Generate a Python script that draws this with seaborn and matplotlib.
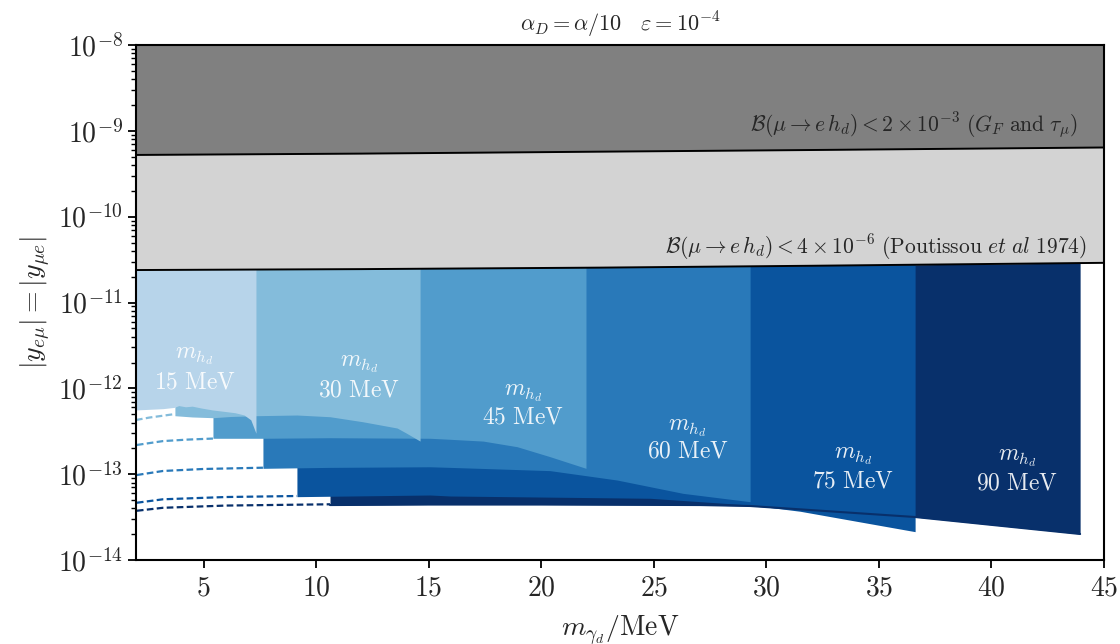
import numpy as np
import matplotlib
matplotlib.use("Agg")
import matplotlib.pyplot as plt
import matplotlib.ticker as mticker
import seaborn as sns

# boundaries of the excluded bands (upper part of the plot)
band_x = [2, 12, 22.6, 32, 45]
gf_y = [5.24e-10, 5.43e-10, 5.72e-10, 5.98e-10, 6.4e-10]        # B < 2e-3 (G_F and tau_mu)
pout_y = [2.39e-11, 2.45e-11, 2.55e-11, 2.68e-11, 2.9e-11]     # B < 4e-6 (Poutissou 1974)

masses = [15, 30, 45, 60, 75, 90]

# lower edge of each m_hd region (filled part)
x15 = [2.0, 2.6, 3.2, 3.7, 3.9, 4.2, 4.5, 4.9, 5.4, 5.9, 6.4, 6.8, 7.1, 7.33]
y15 = [5.6e-13, 5.7e-13, 5.8e-13, 6.0e-13, 6.3e-13, 6.1e-13, 6.2e-13, 5.9e-13, 5.6e-13,
       5.4e-13, 5.2e-13, 4.9e-13, 4.3e-13, 3.0e-13]
x30 = [3.73, 4.5, 5.42, 6.2, 7.33, 9.15, 10.62, 12.08, 13.6, 14.0, 14.62]
y30 = [4.8e-13, 4.64e-13, 4.55e-13, 4.7e-13, 4.8e-13, 4.89e-13, 4.67e-13, 4.08e-13,
       3.45e-13, 3.02e-13, 2.43e-13]
x45 = [5.42, 7.64, 10.62, 15.06, 15.95, 17.42, 18.93, 20.39, 21.99]
y45 = [2.62e-13, 2.62e-13, 2.66e-13, 2.62e-13, 2.55e-13, 2.43e-13, 2.09e-13, 1.6e-13, 1.17e-13]
x60 = [7.64, 10.62, 15.06, 15.95, 20.39, 23.37, 26.3, 29.28]
y60 = [1.17e-13, 1.2e-13, 1.22e-13, 1.2e-13, 1.1e-13, 8.55e-14, 5.98e-14, 4.78e-14]
x75 = [9.15, 15.06, 15.95, 24.83, 29.28, 31.5, 36.61]
y75 = [5.47e-14, 5.72e-14, 5.57e-14, 5.24e-14, 4.37e-14, 3.7e-14, 2.14e-14]
x90 = [10.62, 15.0, 20.0, 27.06, 29.28, 36.61, 43.94]
y90 = [4.37e-14, 4.43e-14, 4.43e-14, 4.37e-14, 4.26e-14, 3.17e-14, 2.01e-14]

# dashed continuation towards low m_gamma_d
dx30 = [2.0, 2.6, 3.2, 3.73]
dy30 = [4.28e-13, 4.57e-13, 4.8e-13, 5.02e-13]
dx45 = [2.04, 3.2, 4.3, 5.42]
dy45 = [2.19e-13, 2.43e-13, 2.53e-13, 2.6e-13]
dx60 = [2.04, 3.2, 5.0, 7.64]
dy60 = [9.78e-14, 1.09e-13, 1.15e-13, 1.19e-13]
dx75 = [2.04, 3.2, 6.0, 9.15]
dy75 = [4.65e-14, 5.1e-14, 5.42e-14, 5.57e-14]
dx90 = [2.04, 3.2, 6.0, 10.62]
dy90 = [3.75e-14, 4.06e-14, 4.31e-14, 4.46e-14]

regions = [(x15, y15), (x30, y30), (x45, y45), (x60, y60), (x75, y75), (x90, y90)]
dashes = [None, (dx30, dy30), (dx45, dy45), (dx60, dy60), (dx75, dy75), (dx90, dy90)]

# label placement (x, y of "m_hd" line, y of "xx MeV" line)
label_pos = [(4.6, 2.44e-12, 1.19e-12), (11.9, 1.96e-12, 9.57e-13), (19.2, 9.14e-13, 4.67e-13),
             (26.5, 3.57e-13, 1.91e-13), (33.85, 1.67e-13, 8.55e-14), (41.15, 1.6e-13, 7.96e-14)]

sns.set_theme(style="ticks")
plt.rcParams["mathtext.fontset"] = "cm"
plt.rcParams["font.family"] = ["DejaVu Sans"]

cmap = sns.color_palette("Blues", as_cmap=True)
colors = [cmap(v) for v in np.linspace(0.3, 1.0, len(masses))]

fig = plt.figure(figsize=(11.2, 6.44), dpi=100)
ax = fig.add_axes([0.1214, 0.1304, 0.8643, 0.7997])
ax.set_yscale("log")

log_pout = np.log10(pout_y)

# darkest first, lighter regions on top
for i in reversed(range(len(masses))):
    xs, ys = regions[i]
    top = 10 ** np.interp(xs, band_x, log_pout)
    ax.fill_between(xs, ys, top, color=colors[i], lw=0, zorder=2 + (5 - i) * 0.1)
    if dashes[i] is not None:
        sns.lineplot(x=dashes[i][0], y=dashes[i][1], ax=ax, color=colors[i],
                     linestyle=(0, (3, 1.5)), lw=1.6, zorder=3)

# lower edge of the 90 MeV region shows through the 75 MeV one
sns.lineplot(x=x90, y=y90, ax=ax, color=colors[-1], lw=1.5, zorder=2.9)

ax.fill_between(band_x, pout_y, gf_y, color="lightgray", lw=0, zorder=1)
ax.fill_between(band_x, gf_y, 1e-8, color="gray", lw=0, zorder=1)
sns.lineplot(x=band_x, y=gf_y, ax=ax, color="black", lw=1.4, zorder=4)
sns.lineplot(x=band_x, y=pout_y, ax=ax, color="black", lw=1.4, zorder=4)

for m, (lx, ly1, ly2) in zip(masses, label_pos):
    ax.text(lx, ly1, r"$m_{h_d}$", color="white", fontsize=17, ha="center", va="center",
            alpha=0.9, zorder=5)
    ax.text(lx, ly2, r"$\mathrm{%d\ MeV}$" % m, color="white", fontsize=17, ha="center",
            va="center", alpha=0.9, zorder=5)

ax.text(43.85, 1.14e-9, r"$\mathcal{B}(\mu\to e\,h_d) < 2\times10^{-3}\ (G_F\ \mathrm{and}\ \tau_\mu)$",
        ha="right", va="center", fontsize=15.5, zorder=5)
ax.text(44.23, 4.47e-11,
        r"$\mathcal{B}(\mu\to e\,h_d) < 4\times10^{-6}\ (\mathrm{Poutissou}\ \mathit{et\ al}\ \mathrm{1974})$",
        ha="right", va="center", fontsize=15.5, zorder=5)

ax.set_xlim(2, 45)
ax.set_ylim(1e-14, 1e-8)
ax.set_xticks([5, 10, 15, 20, 25, 30, 35, 40, 45])
ax.xaxis.set_major_formatter(mticker.FuncFormatter(lambda v, p: r"$%d$" % v))
ax.yaxis.set_major_locator(mticker.LogLocator(base=10, numticks=10))
ax.yaxis.set_minor_locator(mticker.LogLocator(base=10, subs=np.arange(2, 10), numticks=10))
ax.yaxis.set_major_formatter(mticker.FuncFormatter(lambda v, p: r"$10^{%d}$" % round(np.log10(v))))
ax.yaxis.set_minor_formatter(mticker.NullFormatter())

ax.tick_params(axis="both", which="major", labelsize=20, length=6, width=1.3, color="black")
ax.tick_params(axis="y", which="minor", length=3.5, width=1.0, color="black")
for s in ax.spines.values():
    s.set_linewidth(1.5)
    s.set_color("black")
    s.set_zorder(6)

ax.set_xlabel(r"$m_{\gamma_d}/\mathrm{MeV}$", fontsize=20, labelpad=9)
ax.set_ylabel(r"$|y_{e\mu}| = |y_{\mu e}|$", fontsize=20, labelpad=4)
ax.set_title(r"$\alpha_D = \alpha/10 \quad \varepsilon = 10^{-4}$", fontsize=16, pad=10)

fig.savefig("out.png", dpi=100)
